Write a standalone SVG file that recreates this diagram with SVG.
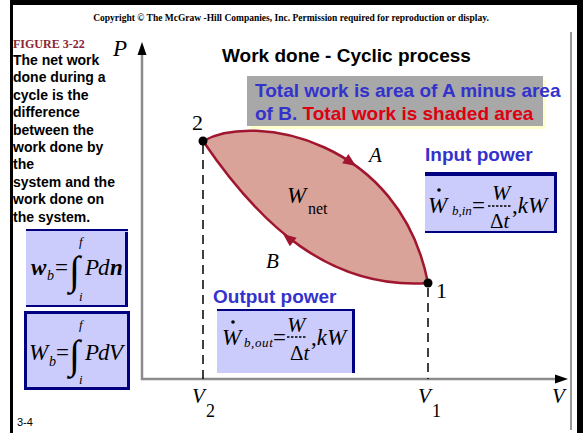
<svg xmlns="http://www.w3.org/2000/svg" width="583" height="433" viewBox="0 0 583 433">
<style>
.sans{font-family:"Liberation Sans",Arial,sans-serif;font-weight:bold}
.plain{font-family:"Liberation Sans",Arial,sans-serif;font-weight:normal}
.serif{font-family:"Liberation Serif","Times New Roman",serif}
.it{font-style:italic}
.body{font-size:14px;fill:#000}
.blue{fill:#3333cc}
.red{fill:#dd0011}
.box{fill:#ccccfc}
.nav{stroke:#000080;fill:none}
.fm{font-size:23px}
.dash{stroke:#000;stroke-width:1.5;stroke-dasharray:9 6}
.curve{fill:none;stroke:#a0162e;stroke-width:2.5}
.ah{fill:#a0162e}
</style>
<rect width="583" height="433" fill="#fff"/>
<g id="frame">
<rect x="10" y="0" width="573" height="5" fill="#000"/>
<rect x="10" y="0" width="3" height="433" fill="#000"/>
<rect x="577" y="0" width="6" height="433" fill="#000"/>
<line x1="571" y1="32" x2="571" y2="430" stroke="#999" stroke-width="2"/>
</g>
<text class="serif" x="291" y="21" font-size="9.5" font-weight="bold" text-anchor="middle">Copyright © The McGraw -Hill Companies, Inc. Permission required for reproduction or display.</text>
<g id="caption">
<text class="serif" x="13" y="48" font-size="12" font-weight="bold" fill="#8b2535">FIGURE 3-22</text>
<text class="sans body">
<tspan x="13" y="65">The net work</tspan>
<tspan x="13" y="82.4">done during a</tspan>
<tspan x="13" y="99.8">cycle is the</tspan>
<tspan x="13" y="117.2">difference</tspan>
<tspan x="13" y="134.6">between the</tspan>
<tspan x="13" y="152">work done by</tspan>
<tspan x="13" y="169.4">the</tspan>
<tspan x="13" y="186.8">system and the</tspan>
<tspan x="13" y="204.2">work done on</tspan>
<tspan x="13" y="221.6">the system.</tspan>
</text>
</g>
<text class="plain" x="17" y="426" font-size="11">3-4</text>
<g id="formula1">
<rect class="box" x="26" y="229" width="102" height="78"/>
<line class="nav" x1="26" y1="230" x2="128" y2="230" stroke-width="2"/>
<line class="nav" x1="126.5" y1="232" x2="126.5" y2="307" stroke-width="3"/>
<line class="nav" x1="26" y1="306" x2="128" y2="306" stroke-width="2"/>
<text class="serif fm" y="275"><tspan x="31" font-style="italic" font-weight="bold">w</tspan><tspan x="47" y="280" font-size="14" font-style="italic">b</tspan><tspan x="55" y="275">=</tspan></text>
<text class="serif" x="69" y="284" font-size="40">∫</text>
<text class="serif it" x="79" y="246" font-size="13">f</text>
<text class="serif it" x="79" y="301" font-size="13">i</text>
<text class="serif fm it" y="275"><tspan x="85">P</tspan><tspan x="98">d</tspan></text>
<text class="serif fm it" x="110" y="275" font-weight="bold">n</text>
</g>
<g id="formula2">
<rect class="box" x="25.5" y="312.5" width="103" height="76" stroke="#000080" stroke-width="3"/>
<text class="serif fm" y="360"><tspan x="29" font-style="italic">W</tspan><tspan x="49" y="366" font-size="14" font-style="italic">b</tspan><tspan x="56" y="360">=</tspan></text>
<text class="serif" x="69" y="368" font-size="40">∫</text>
<text class="serif it" x="79" y="329" font-size="13">f</text>
<text class="serif it" x="79" y="384" font-size="13">i</text>
<text class="serif fm it" y="360"><tspan x="85">P</tspan><tspan x="98">d</tspan><tspan x="109">V</tspan></text>
</g>
<text class="sans" x="222" y="62" font-size="19">Work done - Cyclic process</text>
<g id="note">
<rect x="250" y="79" width="296" height="50" fill="#ffffcc"/>
<rect x="247" y="76" width="296" height="50" fill="#a8a8a8"/>
<text class="sans" font-size="19"><tspan class="blue" x="255" y="97">Total work is area of A minus area</tspan><tspan class="blue" x="255" y="120">of B. </tspan><tspan class="red">Total work is shaded area</tspan></text>
</g>
<g id="axes">
<polyline points="142,52 142,379 558,379" fill="none" stroke="#8c8c8c" stroke-width="2.5"/>
<polygon points="142,42 137.5,55 146.5,55" fill="#000"/>
<polygon points="568,379 555,374.5 555,383.5" fill="#000"/>
<text class="serif it" x="113" y="56" font-size="23">P</text>
<text class="serif it" x="192" y="403" font-size="21">V</text>
<text class="serif" x="206" y="417" font-size="18">2</text>
<text class="serif it" x="418" y="403" font-size="21">V</text>
<text class="serif" x="432" y="417" font-size="18">1</text>
<text class="serif it" x="552" y="403" font-size="21">V</text>
</g>
<g id="connectors">
<line class="dash" x1="203" y1="145" x2="203" y2="379"/>
<line class="dash" x1="428" y1="288" x2="428" y2="379"/>
<path d="M203,141 C255,112 400,140 428,283 C330,290 260,225 203,141 Z" fill="#d9a39a"/>
<path class="curve" d="M203,141 C255,112 400,140 428,283"/>
<path class="curve" d="M428,283 C330,290 260,225 203,141"/>
<polygon class="ah" points="0,0 -13,-5.5 -13,5.5" transform="translate(356,166) rotate(34.4)"/>
<polygon class="ah" points="0,0 -13,-5.5 -13,5.5" transform="translate(283,234) rotate(218.1)"/>
</g>
<g id="state2">
<circle cx="203" cy="141" r="4.5" fill="#000"/>
<text class="serif" x="192" y="130" font-size="22">2</text>
</g>
<g id="state1">
<circle cx="428" cy="283" r="4.5" fill="#000"/>
<text class="serif" x="436" y="298" font-size="22">1</text>
</g>
<g id="labels">
<text class="serif it" x="369" y="162" font-size="21">A</text>
<text class="serif it" x="266" y="268" font-size="21">B</text>
<text class="serif" y="203"><tspan x="287" font-size="23" font-style="italic">W</tspan><tspan x="308" y="214" font-size="16">net</tspan></text>
</g>
<g id="input-power">
<text class="sans blue" x="425" y="161" font-size="19">Input power</text>
<rect class="box" x="425" y="172" width="132" height="61"/>
<line class="nav" x1="425" y1="174" x2="557" y2="174" stroke-width="4"/>
<line class="nav" x1="555.5" y1="172" x2="555.5" y2="233" stroke-width="3"/>
<line class="nav" x1="425" y1="232" x2="557" y2="232" stroke-width="2"/>
<circle cx="439" cy="190" r="1.8" fill="#000"/>
<text class="serif it" x="428" y="213" font-size="23">W</text>
<text class="serif it" x="452" y="215" font-size="13">b,in</text>
<text class="serif" x="472" y="213" font-size="23">=</text>
<text class="serif it" x="492" y="200" font-size="22">W</text>
<line x1="488" y1="206" x2="512" y2="206" stroke="#000" stroke-width="1.3" stroke-dasharray="2.5 1.5"/>
<text class="serif" x="490" y="228" font-size="21">Δ<tspan font-style="italic">t</tspan></text>
<text class="serif" x="512" y="213" font-size="23">,<tspan font-style="italic">kW</tspan></text>
</g>
<g id="output-power">
<text class="sans blue" x="213" y="303" font-size="19">Output power</text>
<rect class="box" x="217" y="309" width="138" height="64"/>
<line class="nav" x1="217" y1="310" x2="355" y2="310" stroke-width="2"/>
<line class="nav" x1="353.5" y1="309" x2="353.5" y2="373" stroke-width="3"/>
<circle cx="233" cy="322" r="1.8" fill="#000"/>
<text class="serif it" x="222" y="345" font-size="23">W</text>
<text class="serif it" x="244" y="347" font-size="13" letter-spacing="0.6">b,out</text>
<text class="serif" x="273" y="345" font-size="23">=</text>
<text class="serif it" x="287" y="332" font-size="22">W</text>
<line x1="287" y1="337" x2="307" y2="337" stroke="#000" stroke-width="1.3" stroke-dasharray="2.5 1.5"/>
<text class="serif" x="290" y="360" font-size="21">Δ<tspan font-style="italic">t</tspan></text>
<text class="serif" x="311" y="345" font-size="23">,<tspan font-style="italic">kW</tspan></text>
</g>
</svg>
